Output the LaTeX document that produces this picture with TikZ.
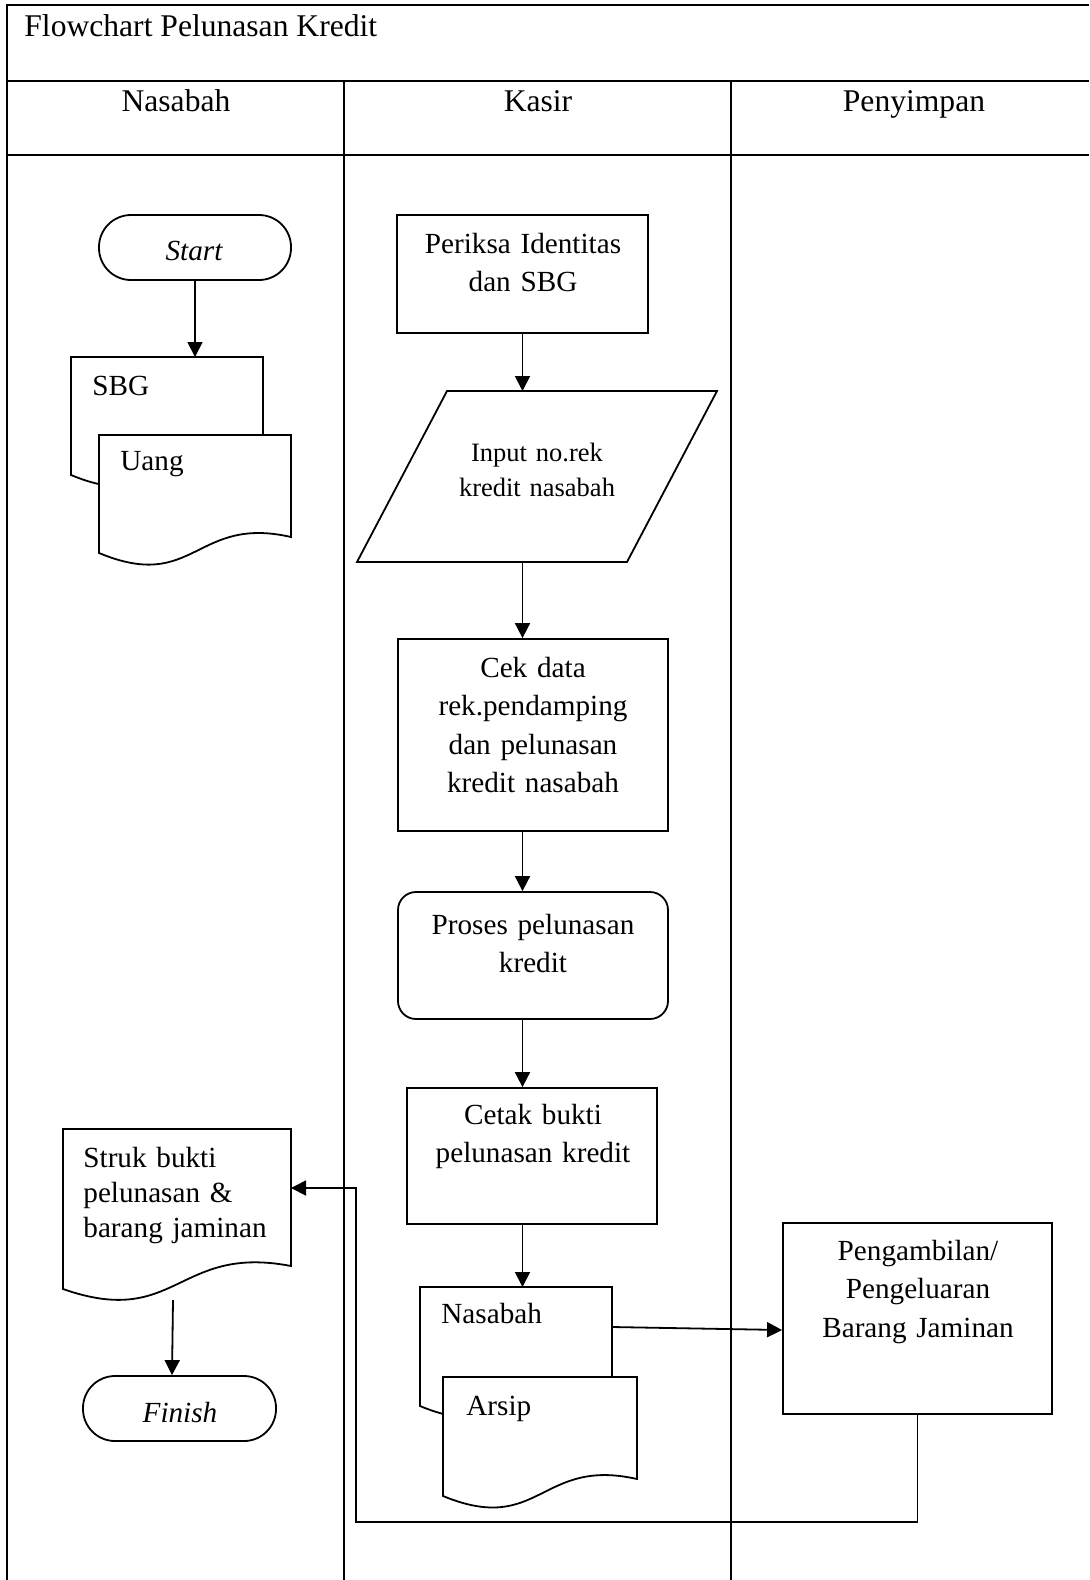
\documentclass[tikz,border=0pt]{standalone}
\usepackage{fontspec}
\setmainfont{Liberation Serif}
\usetikzlibrary{arrows.meta}
\newcommand\docpath[5]{% L T R yl yr
  \draw[shp] (#1,#2) -- (#3,#2) -- (#3,#5) .. controls ({(#1+#3)/2},{#5-22}) and ({(#1+#3)/2},{#4+40}) .. (#1,#4) -- cycle;}
\begin{document}
\begin{tikzpicture}[x=0.5pt,y=-0.5pt,
  shp/.style={draw,line width=0.9pt,fill=white,inner sep=0pt},
  anc/.style={inner sep=0pt,outer sep=0pt},
  body/.style={inner sep=0pt,font=\fontsize{14.6pt}{19.25pt}\selectfont},
  ctext/.style={body,anchor=base,align=center},
  ltext/.style={body,anchor=base west},
  head/.style={inner sep=0pt,anchor=base,font=\fontsize{15.8pt}{19pt}\selectfont},
  term/.style={shp,rounded corners=16pt,minimum height=32.5pt},
  arr/.style={line width=0.9pt,-{Triangle[length=7.5pt,width=7.5pt]}},
  frameline/.style={line width=1.2pt},
  thinline/.style={line width=0.7pt},
  divline/.style={line width=0.9pt}]
\useasboundingbox (0,0) rectangle (1089,1580);
% frame
\draw[frameline] (7,1580) -- (7,5) -- (1089,5);
\draw[frameline] (7,81) -- (1089,81);
\draw[thinline] (7,155) -- (1089,155);
\draw[divline] (344,81) -- (344,1580);
\draw[divline] (731,81) -- (731,1580);
\node[inner sep=0pt,anchor=base west,font=\fontsize{15.8pt}{19pt}\selectfont] (title) at (24,36) {Flowchart Pelunasan Kredit};
\node[head] (h1) at (176,111) {Nasabah};
\node[head] (h2) at (538,111) {Kasir};
\node[head] (h3) at (914,111) {Penyimpan};

% Nasabah column
\node[term,minimum width=96pt] (start) at (195,247.5) {};
\node[body,anchor=base,font=\fontsize{14.6pt}{19.25pt}\selectfont\itshape] (tstart) at (194,260) {Start};
\docpath{71}{357}{263}{475}{459}
\node[anc,minimum width=96pt,minimum height=59pt] (sbg) at (167,416) {};
\node[ltext] (tsbg) at (92,395) {SBG};
\docpath{99}{435}{291}{553}{537}
\node[anc,minimum width=96pt,minimum height=64pt] (uang) at (195,499) {};
\node[ltext] (tuang) at (120,470) {Uang};

\docpath{63}{1129}{291}{1289}{1266}
\node[anc,minimum width=114pt,minimum height=85.5pt] (struk) at (177,1214.5) {};
\node[body,anchor=base west,align=left,text width=115pt,font=\fontsize{14.6pt}{17.5pt}\selectfont] (tstruk) at (83,1167) {Struk bukti\\pelunasan \&\\barang jaminan};
\node[term,minimum width=96.5pt] (finish) at (179.5,1408.5) {};
\node[body,anchor=base,font=\fontsize{14.6pt}{19.25pt}\selectfont\itshape] (tfinish) at (180,1422) {Finish};

% Kasir column
\node[shp,minimum width=125.5pt,minimum height=59pt] (periksa) at (522.5,274) {};
\node[ctext,text width=125pt] (tperiksa) at (523,253) {Periksa Identitas\\dan SBG};
\draw[shp] (447,391) -- (717,391) -- (627,562) -- (357,562) -- cycle;
\node[anc,minimum width=180pt,minimum height=85.5pt] (inp) at (537,476.5) {};
\node[ctext,text width=120pt,font=\fontsize{13.25pt}{17.5pt}\selectfont] (tinp) at (537,461) {Input no.rek\\kredit nasabah};
\node[shp,minimum width=135pt,minimum height=96pt] (cek) at (533,735) {};
\node[ctext,text width=130pt] (tcek) at (533,677) {Cek data\\rek.pendamping\\dan pelunasan\\kredit nasabah};
\node[shp,rounded corners=9pt,minimum width=135pt,minimum height=63.5pt] (proses) at (533,955.5) {};
\node[ctext,text width=130pt] (tproses) at (533,934) {Proses pelunasan\\kredit};
\node[shp,minimum width=125pt,minimum height=68pt] (cetak) at (532,1156) {};
\node[ctext,text width=124pt] (tcetak) at (533,1124) {Cetak bukti\\pelunasan kredit};
\docpath{420}{1287}{612}{1406}{1390}
\node[anc,minimum width=96pt,minimum height=59.5pt] (nsd) at (516,1346.5) {};
\node[ltext] (tnsd) at (441,1323) {Nasabah};
\docpath{443}{1377}{637}{1496}{1479}
\node[anc,minimum width=97pt,minimum height=59.5pt] (arsip) at (540,1436.5) {};
\node[ltext] (tarsip) at (466,1415) {Arsip};

% Penyimpan column
\node[shp,minimum width=134.5pt,minimum height=95.5pt] (pg) at (917.5,1318.5) {};
\node[ctext,text width=132pt] (tpg) at (918,1260) {Pengambilan/\\Pengeluaran\\Barang Jaminan};
\coordinate (fb) at (356,1522);

% connectors
\draw[arr] (start.south) -- (start.south |- sbg.north);
\draw[arr] (periksa.south) -- (periksa.south |- inp.north);
\draw[arr] (periksa.south |- inp.south) -- (periksa.south |- cek.north);
\draw[arr] (periksa.south |- cek.south) -- (periksa.south |- proses.north);
\draw[arr] (periksa.south |- proses.south) -- (periksa.south |- cetak.north);
\draw[arr] (periksa.south |- cetak.south) -- (periksa.south |- nsd.north);
\draw[arr] ([yshift=-20pt]nsd.north east) -- ([yshift=-5.75pt]pg.west);
\draw[arr] (pg.south) |- (fb) |- ([yshift=13.25pt]struk.east);
\draw[arr] ([xshift=-2pt]struk.south) -- ([xshift=-3.75pt]finish.north);
\end{tikzpicture}
\end{document}
